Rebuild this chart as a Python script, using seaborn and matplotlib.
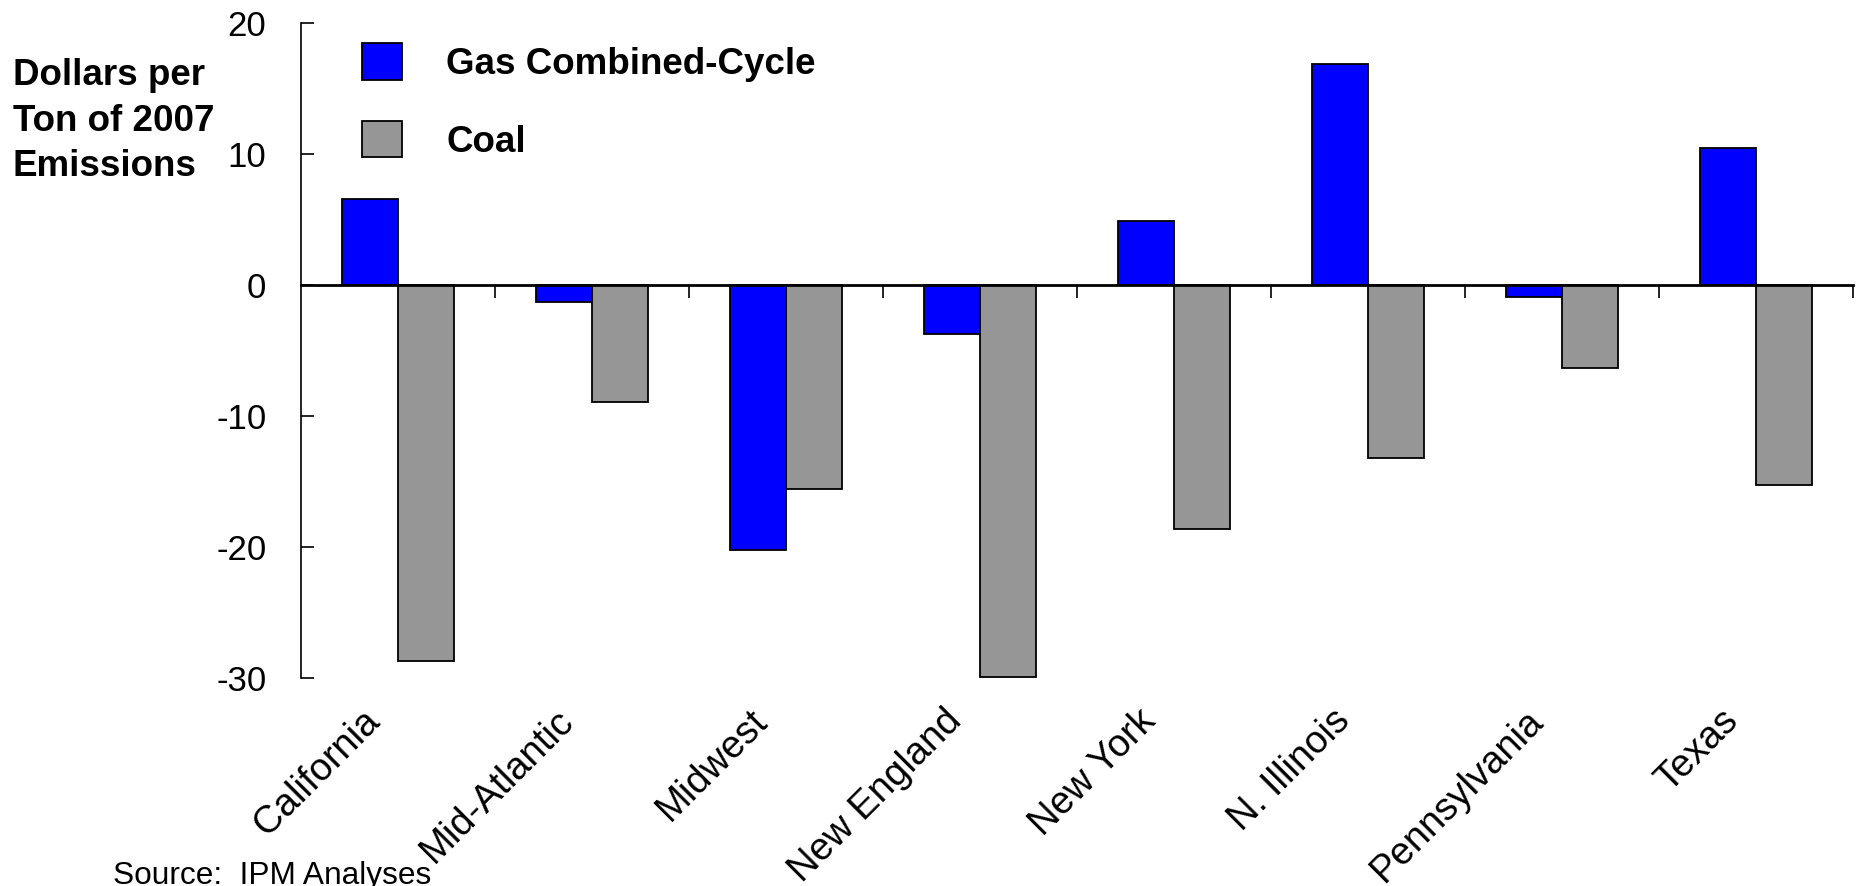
import matplotlib
matplotlib.use("Agg")
import matplotlib.pyplot as plt
import matplotlib.transforms as mtransforms
import seaborn as sns
import pandas as pd

# Data: net change in dollars per ton of 2007 emissions, by region
regions = ["California", "Mid-Atlantic", "Midwest", "New England",
           "New York", "N. Illinois", "Pennsylvania", "Texas"]
gas_cc = [6.6, -1.3, -20.2, -3.7, 4.9, 16.9, -0.9, 10.5]
coal = [-28.7, -8.9, -15.6, -29.9, -18.6, -13.2, -6.3, -15.3]
series_names = ["Gas Combined-Cycle", "Coal"]
y_ticks = [20, 10, 0, -10, -20, -30]

df = pd.DataFrame({
    "region": regions * 2,
    "fuel": [series_names[0]] * len(regions) + [series_names[1]] * len(regions),
    "value": gas_cc + coal,
})

sns.set_theme(style="white")
plt.rcParams["font.family"] = ["Liberation Sans", "DejaVu Sans"]
plt.rcParams["axes.unicode_minus"] = False
plt.rcParams["text.color"] = "black"

fig = plt.figure(figsize=(18.58, 8.86), dpi=100)
ax = fig.add_axes([0.162, 0.2348, 0.8353, 0.7389])

sns.barplot(
    data=df, x="region", y="value", hue="fuel",
    order=regions, hue_order=series_names,
    palette={series_names[0]: "#0000FF", series_names[1]: "#969696"},
    width=0.574, edgecolor="black", linewidth=1.3,
    errorbar=None, saturation=1, ax=ax,
)

n = len(regions)
ax.set_xlim(-0.5, n - 0.5)
ax.set_ylim(min(y_ticks), max(y_ticks))
ax.set_xlabel("")
ax.set_ylabel("")

# Spines: y axis on the left, category axis running along zero
for side in ("top", "right"):
    ax.spines[side].set_visible(False)
ax.spines["left"].set_linewidth(1.2)
ax.spines["left"].set_color("black")
ax.spines["bottom"].set_position(("data", 0))
ax.spines["bottom"].set_linewidth(2.0)
ax.spines["bottom"].set_color("black")

# Category boundary ticks on the zero line
ax.set_xticks([i + 0.5 for i in range(n)])
ax.set_xticklabels([])
ax.tick_params(axis="x", direction="out", length=9, width=1.2,
               color="black", bottom=True)

ax.set_yticks(y_ticks)
ax.set_yticklabels([str(t) for t in y_ticks])
ax.tick_params(axis="y", direction="in", length=9.5, width=1.2,
               color="black", left=True, pad=25, labelsize=25,
               labelcolor="black")

# Rotated category names below the plot area
base = mtransforms.blended_transform_factory(ax.transData, ax.transAxes)
label_tr = mtransforms.offset_copy(base, fig=fig, x=-17, y=-27, units="points")
for i, name in enumerate(regions):
    ax.text(i, 0, name, transform=label_tr, rotation=45,
            rotation_mode="anchor", ha="right", va="center",
            fontsize=27.5, color="black")

# Legend
handles, labels = ax.get_legend_handles_labels()
ax.legend(handles, labels, loc="upper left",
          bbox_to_anchor=(0.1947, 0.951), bbox_transform=fig.transFigure,
          frameon=False, borderpad=0, borderaxespad=0,
          handlelength=1.1, handleheight=1.15, handletextpad=1.2,
          labelspacing=1.05, labelcolor="black",
          prop={"size": 26.5, "weight": "bold"})

# Axis title at the upper left
fig.text(12.7 / 1858, 0.801, "Dollars per\nTon of 2007\nEmissions",
         ha="left", va="baseline", fontsize=26.5, fontweight="bold",
         linespacing=1.39, color="black")

fig.text(112.7 / 1858, 0.0023, "Source:  IPM Analyses",
         ha="left", va="baseline", fontsize=22.8, color="black")

fig.savefig("out.png", dpi=100, facecolor="white")
